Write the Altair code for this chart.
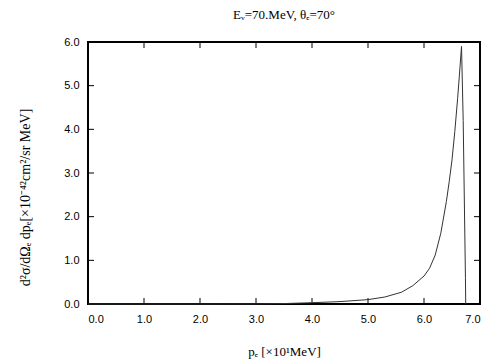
import altair as alt
import pandas as pd

# curve data (p_e in units of 10 MeV, cross section in 1e-42 cm^2/sr MeV)
p_vals = [0.0, 1.0, 2.0, 3.0, 3.5, 4.0, 4.5, 5.0, 5.3, 5.6, 5.8, 6.0, 6.1, 6.2,
          6.3, 6.4, 6.45, 6.5, 6.55, 6.6, 6.63, 6.67, 6.70, 6.74, 6.745]
xs_vals = [0.0, 0.0, 0.0, 0.002, 0.01, 0.03, 0.055, 0.1, 0.16, 0.27, 0.42, 0.64,
           0.82, 1.12, 1.62, 2.35, 2.8, 3.3, 3.95, 4.7, 5.2, 5.9, 4.2, 0.6, 0.0]

x_ticks = [1, 2, 3, 4, 5, 6]
y_ticks = [1, 2, 3, 4, 5]

title_text = "Eᵥ=70.MeV,  θₑ=70°"
x_title = "pₑ [×10¹MeV]"
y_title = "d²σ/dΩₑ dpₑ[×10⁻⁴²cm²/sr MeV]"

W, H = 392, 262

curve = pd.DataFrame({"p": p_vals, "v": xs_vals})
xt = pd.DataFrame({"t": x_ticks})
yt = pd.DataFrame({"t": y_ticks})

xscale = alt.Scale(domain=[0, 7], nice=False, zero=False)
yscale = alt.Scale(domain=[0, 6], nice=False, zero=False)

line = alt.Chart(curve).mark_line(color="#333333", strokeWidth=1).encode(
    x=alt.X("p:Q", scale=xscale,
            axis=alt.Axis(title=x_title, values=[0, 1, 2, 3, 4, 5, 6, 7], format=".1f",
                          tickSize=0, domain=False, grid=False, labelPadding=9,
                          titleFont="Liberation Serif", titleFontSize=13,
                          titleFontWeight="normal", titleY=41)),
    y=alt.Y("v:Q", scale=yscale,
            axis=alt.Axis(title=y_title, values=[0, 1, 2, 3, 4, 5, 6], format=".1f",
                          tickSize=0, domain=False, grid=False, labelPadding=9,
                          titleFont="Liberation Serif", titleFontSize=14,
                          titleFontWeight="normal", titleX=-56, titleY=155)),
)

tick_len = 6
bottom_ticks = alt.Chart(xt).mark_rule(color="black", strokeWidth=1).encode(
    x=alt.X("t:Q", scale=xscale), y=alt.value(H), y2=alt.value(H - tick_len))
top_ticks = alt.Chart(xt).mark_rule(color="black", strokeWidth=1).encode(
    x=alt.X("t:Q", scale=xscale), y=alt.value(0), y2=alt.value(tick_len))
left_ticks = alt.Chart(yt).mark_rule(color="black", strokeWidth=1).encode(
    y=alt.Y("t:Q", scale=yscale), x=alt.value(0), x2=alt.value(tick_len))
right_ticks = alt.Chart(yt).mark_rule(color="black", strokeWidth=1).encode(
    y=alt.Y("t:Q", scale=yscale), x=alt.value(W), x2=alt.value(W - tick_len))

chart = alt.layer(bottom_ticks, top_ticks, left_ticks, right_ticks, line).properties(
    width=W, height=H,
    title=alt.TitleParams(text=title_text, font="Liberation Serif", fontSize=13,
                          fontWeight="normal", anchor="middle", offset=14),
    autosize=alt.AutoSizeParams(type="none"),
    padding={"left": 80, "top": 34, "right": 16, "bottom": 56},
).configure_view(
    stroke="black", strokeWidth=2
).configure_axis(
    labelFont="Liberation Sans", labelFontSize=11, labelColor="black",
    titleColor="black"
)

chart.save("out.html", embed_options={"renderer": "svg", "actions": False})
